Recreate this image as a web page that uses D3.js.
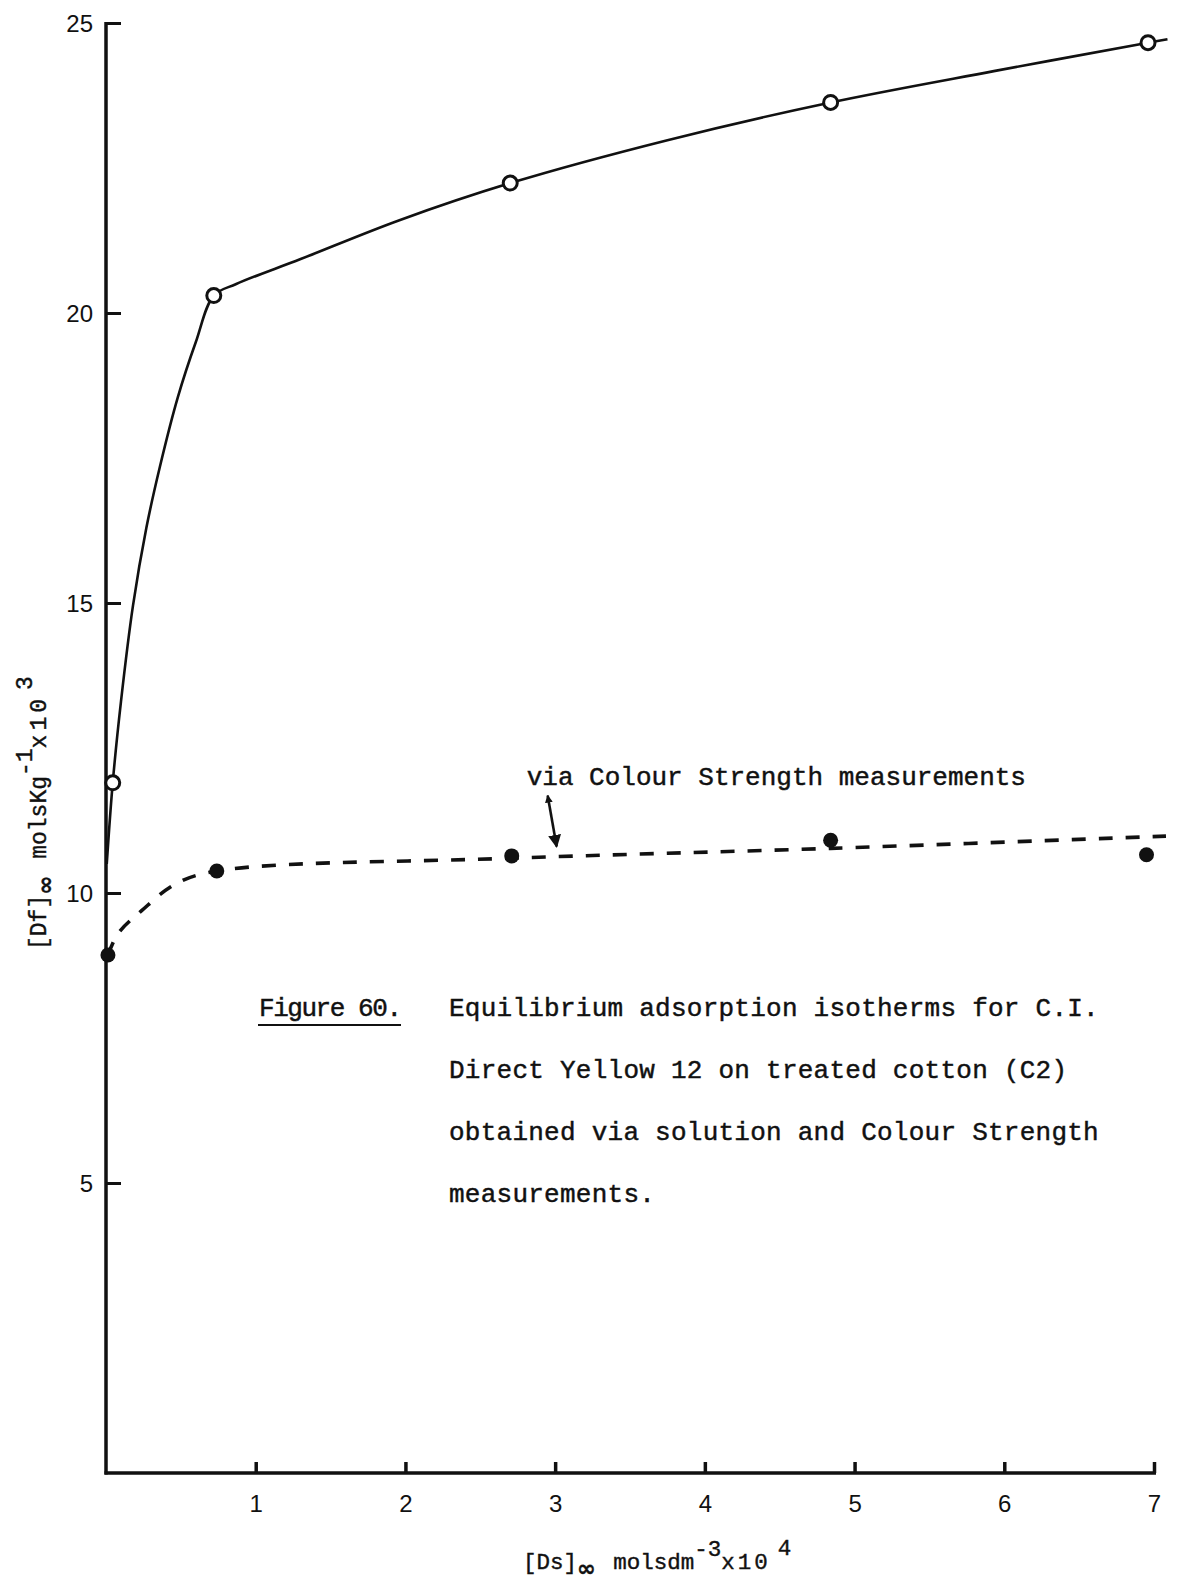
<!DOCTYPE html>
<html><head><meta charset="utf-8">
<script src="https://cdn.jsdelivr.net/npm/d3@7"></script>
<style>body{margin:0;background:#fff}</style>
</head><body><svg id="c" width="1180" height="1585"></svg>
<script>
// ---- data ----
const xTicks = [1, 2, 3, 4, 5, 6, 7];
const yTicks = [5, 10, 15, 20, 25];
// open circles: via solution
const solutionX = [0.045, 0.72, 2.70, 4.84, 6.96];
const solutionY = [11.9, 20.3, 22.24, 23.63, 24.66];
// filled circles: via Colour Strength
const colourX = [0.013, 0.74, 2.71, 4.84, 6.95];
const colourY = [8.93, 10.38, 10.64, 10.91, 10.66];
// hand-drawn smooth curves
const solutionCurveX = [0.005, 0.045, 0.10, 0.18, 0.27, 0.36, 0.48, 0.60, 0.72, 0.87, 1.3, 1.96, 2.70, 3.75, 4.84, 5.93, 6.96, 7.09];
const solutionCurveY = [10.5, 11.9, 13.3, 14.95, 16.3, 17.35, 18.55, 19.5, 20.3, 20.5, 20.93, 21.6, 22.24, 22.98, 23.63, 24.17, 24.66, 24.72];
const colourCurveX = [0.013, 0.08, 0.24, 0.46, 0.74, 2.71, 4.84, 7.08];
const colourCurveY = [8.93, 9.3, 9.7, 10.15, 10.38, 10.6, 10.77, 10.98];
const annotationText = "via Colour Strength measurements";
const figureLabel = "Figure 60.";
const captionLines = [
  "Equilibrium adsorption isotherms for C.I.",
  "Direct Yellow 12 on treated cotton (C2)",
  "obtained via solution and Colour Strength",
  "measurements."
];

// ---- drawing ----
const svg = d3.select("#c");
const ink = "#111";
const mono = "'Liberation Mono', 'DejaVu Sans Mono', monospace";
const sans = "'Liberation Sans', Arial, sans-serif";

const x = d3.scaleLinear().domain([0, 7]).range([106, 1154]);
const y = d3.scaleLinear().domain([0, 25]).range([1473, 23]);

// axes lines
svg.append("line").attr("x1", x(0)).attr("x2", x(0)).attr("y1", y(25) - 1).attr("y2", y(0) + 1.5)
  .attr("stroke", ink).attr("stroke-width", 3.5);
svg.append("line").attr("x1", x(0) - 1.5).attr("x2", x(7) + 2).attr("y1", y(0)).attr("y2", y(0))
  .attr("stroke", ink).attr("stroke-width", 3.5);

// y ticks (inward, right side) and labels
const yAxis = d3.axisLeft(y).tickValues(yTicks).tickSize(0).tickPadding(13).tickFormat(d3.format("d"));
const gy = svg.append("g").attr("transform", `translate(${x(0)},0)`).call(yAxis);
gy.select(".domain").remove();
gy.selectAll("text").attr("font-family", sans).attr("font-size", 24).attr("fill", ink).attr("dy", "0.36em");
gy.selectAll(".tick").append("line").attr("x1", 0).attr("x2", 15).attr("stroke", ink).attr("stroke-width", 3);

// x ticks (inward, above axis) and labels
const xAxis = d3.axisBottom(x).tickValues(xTicks).tickSize(0).tickPadding(22).tickFormat(d3.format("d"));
const gx = svg.append("g").attr("transform", `translate(0,${y(0)})`).call(xAxis);
gx.select(".domain").remove();
gx.selectAll("text").attr("font-family", sans).attr("font-size", 24).attr("fill", ink);
gx.selectAll(".tick").append("line").attr("y1", 0).attr("y2", -11).attr("stroke", ink).attr("stroke-width", 3.5);

// curves
const line = d3.line().x(d => x(d[0])).y(d => y(d[1])).curve(d3.curveCatmullRom.alpha(0.5));
svg.append("path").attr("d", line(d3.zip(solutionCurveX, solutionCurveY)))
  .attr("fill", "none").attr("stroke", ink).attr("stroke-width", 2.6);
svg.append("path").attr("d", line(d3.zip(colourCurveX, colourCurveY)))
  .attr("fill", "none").attr("stroke", ink).attr("stroke-width", 3.6).attr("stroke-dasharray", "14,13");

// markers
svg.append("g").selectAll("circle").data(d3.zip(solutionX, solutionY)).join("circle")
  .attr("cx", d => x(d[0])).attr("cy", d => y(d[1])).attr("r", 7)
  .attr("fill", "#fff").attr("stroke", ink).attr("stroke-width", 3);
svg.append("g").selectAll("circle").data(d3.zip(colourX, colourY)).join("circle")
  .attr("cx", d => x(d[0])).attr("cy", d => y(d[1])).attr("r", 7.5).attr("fill", ink);

// annotation with arrow
const defs = svg.append("defs");
defs.append("marker").attr("id", "head").attr("viewBox", "0 0 10 10").attr("refX", 9).attr("refY", 5)
  .attr("markerWidth", 5).attr("markerHeight", 5).attr("markerUnits", "strokeWidth").attr("orient", "auto")
  .append("path").attr("d", "M0,0 L10,5 L0,10 z").attr("fill", ink);
defs.append("marker").attr("id", "tail").attr("viewBox", "0 0 10 10").attr("refX", 9).attr("refY", 5)
  .attr("markerWidth", 3).attr("markerHeight", 3).attr("markerUnits", "strokeWidth").attr("orient", "auto-start-reverse")
  .append("path").attr("d", "M0,0 L10,5 L0,10 z").attr("fill", ink);
svg.append("line").attr("x1", x(2.95)).attr("y1", y(11.68)).attr("x2", x(3.01)).attr("y2", y(10.8))
  .attr("stroke", ink).attr("stroke-width", 2.6)
  .attr("marker-end", "url(#head)").attr("marker-start", "url(#tail)");
svg.append("text").attr("x", x(2.81)).attr("y", y(11.86)).text(annotationText)
  .attr("font-family", mono).attr("font-size", 26).attr("fill", ink)
  .attr("stroke", ink).attr("stroke-width", 0.45);

// caption
const cap = svg.append("g").attr("font-family", mono).attr("font-size", 26).attr("fill", ink)
  .attr("stroke", ink).attr("stroke-width", 0.45);
cap.append("text").attr("x", 259).attr("y", 1016).attr("textLength", 143).text(figureLabel);
cap.append("line").attr("x1", 258).attr("x2", 401).attr("y1", 1025).attr("y2", 1025).attr("stroke", ink).attr("stroke-width", 2);
cap.selectAll("text.cl").data(captionLines).join("text").attr("class", "cl")
  .attr("x", 449).attr("y", (d, i) => 1016 + i * 62).attr("letter-spacing", 0.25).text(d => d);

// x axis title
const xt = svg.append("text").attr("x", 523).attr("y", 1569).attr("font-family", mono).attr("font-size", 22.5)
  .attr("fill", ink).attr("stroke", ink).attr("stroke-width", 0.4);
xt.append("tspan").text("[Ds]");
xt.append("tspan").attr("dy", 7).attr("font-weight", "bold").attr("font-family", "'DejaVu Sans', sans-serif").text("\u221E");
xt.append("tspan").attr("dy", -7).attr("dx", 4).text(" molsdm");
xt.append("tspan").attr("dy", -13).text("-3");
xt.append("tspan").attr("dy", 13).attr("letter-spacing", 3).text("x10");
xt.append("tspan").attr("dy", -14).attr("dx", 7).text("4");

// y axis title (rotated)
const yt = svg.append("text").attr("transform", "translate(46,950) rotate(-90)")
  .attr("font-family", mono).attr("font-size", 23).attr("fill", ink).attr("stroke", ink).attr("stroke-width", 0.4);
yt.append("tspan").text("[Df]");
yt.append("tspan").attr("dy", 7).attr("font-weight", "bold").attr("font-family", "'DejaVu Sans', sans-serif").text("\u221E");
yt.append("tspan").attr("dy", -7).attr("dx", 3).text(" molsKg");
yt.append("tspan").attr("dy", -14).text("-1");
yt.append("tspan").attr("dy", 14).attr("letter-spacing", 4).text("x10");
yt.append("tspan").attr("dy", -14).attr("dx", 5).text("3");
</script></body></html>
